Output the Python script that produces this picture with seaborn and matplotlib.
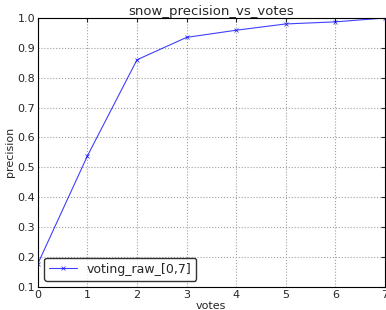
import matplotlib
matplotlib.use("Agg")
import matplotlib.pyplot as plt
import seaborn as sns
import pandas as pd

# data
votes = [0, 1, 2, 3, 4, 5, 6, 7]
precision = [0.177, 0.538, 0.860, 0.935, 0.959, 0.980, 0.987, 1.000]
series_name = "voting_raw_[0,7]"

sns.set_style("white")
plt.rcParams['font.family'] = ['DejaVu Sans']

df = pd.DataFrame({"votes": votes, "precision": precision})

fig, ax = plt.subplots(figsize=(3.86, 3.10), dpi=100)
sns.lineplot(data=df, x="votes", y="precision", ax=ax, color="#0000ff",
             marker="x", markersize=3, markeredgecolor="#0000ff",
             markeredgewidth=0.6, linewidth=0.8, alpha=0.75, label=series_name)

ax.set_xlim(0, 7)
ax.set_ylim(0.1, 1.0)
ax.set_xticks(range(0, 8))
ax.set_yticks([0.1, 0.2, 0.3, 0.4, 0.5, 0.6, 0.7, 0.8, 0.9, 1.0])
ax.grid(True, linestyle=":", color="#a0a0a0", linewidth=0.8)
ax.tick_params(labelsize=8, direction="in", length=3, top=True, right=True, pad=2)
for s in ax.spines.values():
    s.set_color("black")
    s.set_linewidth(0.8)

ax.set_title("snow_precision_vs_votes", fontsize=9.5, pad=2)
ax.set_xlabel("votes", fontsize=8, labelpad=1)
ax.set_ylabel("precision", fontsize=8, labelpad=2)

leg = ax.legend(loc="lower left", fontsize=9, frameon=True, fancybox=True,
                borderpad=0.4, handlelength=2.2)
leg.get_frame().set_edgecolor("black")

fig.subplots_adjust(left=0.098, right=0.997, top=0.942, bottom=0.075)
fig.savefig("out.png", dpi=100)
